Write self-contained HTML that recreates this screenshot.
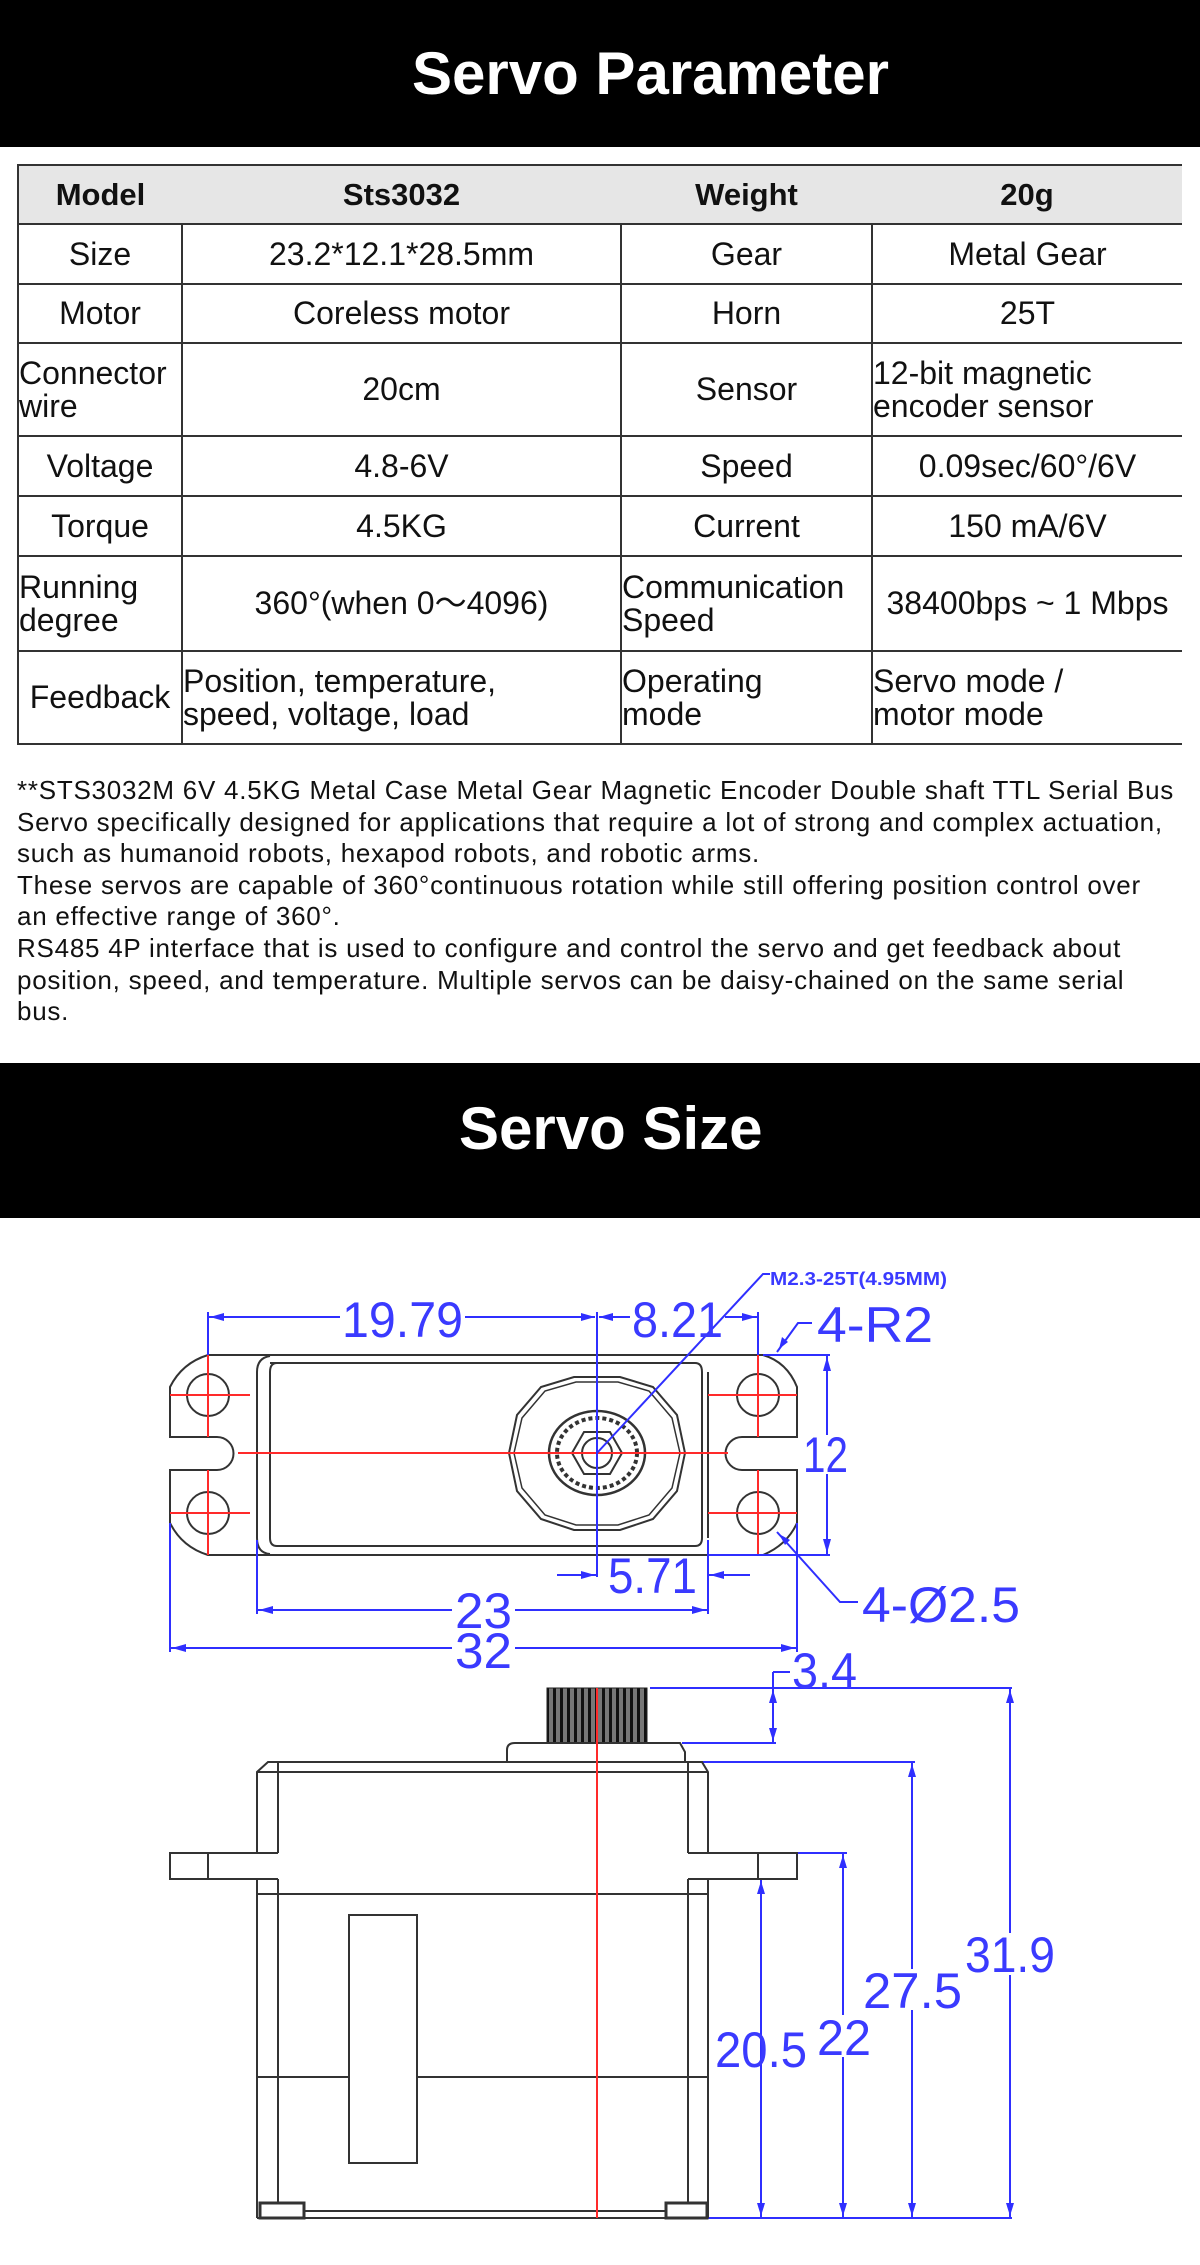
<!DOCTYPE html>
<html><head><meta charset="utf-8">
<style>
*{margin:0;padding:0;box-sizing:border-box}
body{width:1200px;height:2265px;background:#fff;position:relative;overflow:hidden;font-family:"Liberation Sans","Noto Sans CJK SC",sans-serif;color:#111}
.band{position:absolute;left:0;width:1200px;background:#000}
.ttl{position:absolute;color:#fff;font-weight:bold;font-size:60px;line-height:60px;white-space:nowrap}
table{position:absolute;left:17px;top:164px;border-collapse:collapse;table-layout:fixed;width:1164px}
td{border:2px solid #333;font-size:32px;text-align:center;vertical-align:middle;line-height:33px;padding:0;border-right:none;white-space:nowrap;overflow:visible}
td.l{text-align:left}
tr.h td{background:#e6e6e6;border-left:none;border-right:none;font-weight:bold;font-size:31px}
tr.h td:first-child{border-left:2px solid #333}
td:last-child{border-right:none}
.p{position:absolute;left:17px;top:775px;font-size:26px;letter-spacing:0.75px;line-height:31.6px;white-space:nowrap;color:#111}
</style></head><body>
<div class="band" style="top:0;height:147px"></div>
<div class="ttl" style="left:412px;top:44px">Servo Parameter</div>

<table>
<colgroup><col style="width:164px"><col style="width:439px"><col style="width:251px"><col style="width:310px"></colgroup>
<tr class="h" style="height:59px"><td>Model</td><td>Sts3032</td><td>Weight</td><td>20g</td></tr>
<tr style="height:60px"><td>Size</td><td>23.2*12.1*28.5mm</td><td>Gear</td><td>Metal Gear</td></tr>
<tr style="height:59px"><td>Motor</td><td>Coreless motor</td><td>Horn</td><td>25T</td></tr>
<tr style="height:93px"><td class="l">Connector<br>wire</td><td>20cm</td><td>Sensor</td><td class="l">12-bit magnetic<br>encoder sensor</td></tr>
<tr style="height:60px"><td>Voltage</td><td>4.8-6V</td><td>Speed</td><td>0.09sec/60°/6V</td></tr>
<tr style="height:60px"><td>Torque</td><td>4.5KG</td><td>Current</td><td>150 mA/6V</td></tr>
<tr style="height:95px"><td class="l">Running<br>degree</td><td>360°(when 0～4096)</td><td class="l">Communication<br>Speed</td><td>38400bps ~ 1 Mbps</td></tr>
<tr style="height:93px"><td>Feedback</td><td class="l">Position, temperature,<br>speed, voltage, load</td><td class="l">Operating<br>mode</td><td class="l">Servo mode /<br>motor mode</td></tr>
</table>

<div class="p">**STS3032M 6V 4.5KG Metal Case Metal Gear Magnetic Encoder Double shaft TTL Serial Bus<br>Servo specifically designed for applications that require a lot of strong and complex actuation,<br>such as humanoid robots, hexapod robots, and robotic arms.<br>These servos are capable of 360°continuous rotation while still offering position control over<br>an effective range of 360°.<br>RS485 4P interface that is used to configure and control the servo and get feedback about<br>position, speed, and temperature. Multiple servos can be daisy-chained on the same serial<br>bus.</div>

<div class="band" style="top:1063px;height:155px"></div>
<div class="ttl" style="left:459px;top:1099px">Servo Size</div>

<svg width="1200" height="2265" style="position:absolute;left:0;top:0" xmlns="http://www.w3.org/2000/svg">
<defs>
<pattern id="sp" width="7" height="10" patternUnits="userSpaceOnUse"><rect width="7" height="10" fill="#777"/><rect width="3" height="10" fill="#111"/></pattern>
</defs>
<g fill="none" stroke="#333" stroke-width="2">
<path d="M208,1355 H763 Q787,1362 797,1387 V1437 H742 A16.5,16.5 0 0 0 742,1470 H797 V1523 Q787,1545 763,1555 H208 Q182,1547 170,1523 V1470 H217 A16.5,16.5 0 0 0 217,1437 H170 V1387 Q182,1363 208,1355 Z"/>
<path d="M257,1372 Q257,1358 270,1356 M257,1372 V1538 Q257,1553 270,1554"/>
<path d="M270,1363 H695 Q702,1363 702,1372 V1538 Q702,1546 695,1546 H277 Q270,1546 270,1538 V1372 Q270,1363 277,1363"/>
<path d="M708,1372 V1538"/>
<circle cx="208" cy="1395" r="21"/><circle cx="208" cy="1513" r="21"/>
<circle cx="758" cy="1395" r="21"/><circle cx="758" cy="1513" r="21"/>
<polygon points="685,1453 677,1415 653,1387 620,1377 574,1377 541,1387 517,1415 509,1453 517,1491 541,1519 574,1530 620,1530 653,1519 677,1491"/>
<polygon points="680,1453 672,1418 649,1391 618,1382 576,1382 545,1391 522,1418 514,1453 522,1488 545,1515 576,1525 618,1525 649,1515 672,1488" stroke-width="1.5"/>
<ellipse cx="597" cy="1453" rx="48" ry="42" stroke-width="2.5"/>
<ellipse cx="597" cy="1453" rx="40" ry="35" stroke-width="4" stroke-dasharray="4 3"/>
<polygon points="622,1453 610,1474 584,1474 572,1453 584,1432 610,1432"/>
<circle cx="597" cy="1453" r="15"/>
</g>
<g stroke="#ff2a2a" stroke-width="2">
<line x1="170" y1="1395" x2="250" y2="1395"/><line x1="170" y1="1513" x2="250" y2="1513"/>
<line x1="708" y1="1395" x2="797" y2="1395"/><line x1="708" y1="1513" x2="797" y2="1513"/>
<line x1="208" y1="1355" x2="208" y2="1437"/><line x1="208" y1="1470" x2="208" y2="1555"/>
<line x1="758" y1="1355" x2="758" y2="1437"/><line x1="758" y1="1470" x2="758" y2="1555"/>
<line x1="238" y1="1453" x2="728" y2="1453"/>
</g>
<g stroke="#2f2fff" stroke-width="2" fill="none">
<line x1="208" y1="1312" x2="208" y2="1355"/>
<line x1="597" y1="1312" x2="597" y2="1577"/>
<line x1="758" y1="1312" x2="758" y2="1355"/>
<line x1="208" y1="1317" x2="340" y2="1317"/><line x1="465" y1="1317" x2="595" y2="1317"/>
<line x1="599" y1="1317" x2="630" y2="1317"/><line x1="725" y1="1317" x2="758" y2="1317"/>
<line x1="557" y1="1575" x2="597" y2="1575"/><line x1="708" y1="1575" x2="750" y2="1575"/>
<line x1="708" y1="1540" x2="708" y2="1614"/>
<line x1="257" y1="1540" x2="257" y2="1614"/>
<line x1="257" y1="1610" x2="452" y2="1610"/><line x1="515" y1="1610" x2="708" y2="1610"/>
<line x1="170" y1="1523" x2="170" y2="1652"/><line x1="797" y1="1523" x2="797" y2="1652"/>
<line x1="170" y1="1648" x2="452" y2="1648"/><line x1="515" y1="1648" x2="797" y2="1648"/>
<line x1="763" y1="1355" x2="830" y2="1355"/><line x1="708" y1="1555" x2="830" y2="1555"/>
<line x1="827" y1="1355" x2="827" y2="1435"/><line x1="827" y1="1474" x2="827" y2="1555"/>
<polyline points="597,1453 763,1274 770,1274"/>
<polyline points="777,1352 798,1323 812,1323"/>
<polyline points="777,1532 840,1602 858,1602"/>
<line x1="650" y1="1688" x2="1012" y2="1688"/>
<line x1="773" y1="1672" x2="773" y2="1743"/><line x1="773" y1="1672" x2="790" y2="1672"/>
<line x1="682" y1="1743" x2="776" y2="1743"/>
<line x1="702" y1="1762" x2="915" y2="1762"/>
<line x1="797" y1="1853" x2="847" y2="1853"/>
<line x1="1010" y1="1688" x2="1010" y2="1933"/><line x1="1010" y1="1975" x2="1010" y2="2218"/>
<line x1="912" y1="1762" x2="912" y2="1969"/><line x1="912" y1="2010" x2="912" y2="2218"/>
<line x1="843" y1="1853" x2="843" y2="2015"/><line x1="843" y1="2057" x2="843" y2="2218"/>
<line x1="761" y1="1879" x2="761" y2="2218"/>
<line x1="707" y1="2218" x2="1012" y2="2218"/>
</g>
<g fill="#2f2fff">
<path d="M210,1317 l14,-4 v8 z"/><path d="M595,1317 l-14,-4 v8 z"/>
<path d="M599,1317 l14,-4 v8 z"/><path d="M756,1317 l-14,-4 v8 z"/>
<path d="M595,1575 l-14,-4 v8 z"/><path d="M710,1575 l14,-4 v8 z"/>
<path d="M259,1610 l14,-4 v8 z"/><path d="M706,1610 l-14,-4 v8 z"/>
<path d="M172,1648 l14,-4 v8 z"/><path d="M795,1648 l-14,-4 v8 z"/>
<path d="M827,1357 l-4,14 h8 z"/><path d="M827,1553 l-4,-14 h8 z"/>
<path d="M779,1349 l3,-12 l6,5 z"/><path d="M779,1534 l6,11 l5,-5 z"/>
<path d="M773,1690 l-4,13 h8 z"/><path d="M773,1741 l-4,-13 h8 z"/>
<path d="M1010,1690 l-4,13 h8 z"/><path d="M1010,2216 l-4,-13 h8 z"/>
<path d="M912,1764 l-4,13 h8 z"/><path d="M912,2216 l-4,-13 h8 z"/>
<path d="M843,1855 l-4,13 h8 z"/><path d="M843,2216 l-4,-13 h8 z"/>
<path d="M761,1881 l-4,13 h8 z"/><path d="M761,2216 l-4,-13 h8 z"/>
</g>
<g fill="#3a3aff" font-family="Liberation Sans, sans-serif" font-size="50">
<text x="342" y="1337" textLength="121" lengthAdjust="spacingAndGlyphs">19.79</text>
<text x="632" y="1337" textLength="91" lengthAdjust="spacingAndGlyphs">8.21</text>
<text x="817" y="1342" textLength="116" lengthAdjust="spacingAndGlyphs">4-R2</text>
<text x="803" y="1472" textLength="45" lengthAdjust="spacingAndGlyphs">12</text>
<text x="608" y="1593" textLength="89" lengthAdjust="spacingAndGlyphs">5.71</text>
<text x="862" y="1622" textLength="158" lengthAdjust="spacingAndGlyphs">4-Ø2.5</text>
<text x="455" y="1628" textLength="57" lengthAdjust="spacingAndGlyphs">23</text>
<text x="455" y="1668" textLength="57" lengthAdjust="spacingAndGlyphs">32</text>
<text x="792" y="1688" textLength="65" lengthAdjust="spacingAndGlyphs">3.4</text>
<text x="965" y="1972" textLength="90" lengthAdjust="spacingAndGlyphs">31.9</text>
<text x="863" y="2008" textLength="99" lengthAdjust="spacingAndGlyphs">27.5</text>
<text x="817" y="2055" textLength="54" lengthAdjust="spacingAndGlyphs">22</text>
<text x="715" y="2067" textLength="92" lengthAdjust="spacingAndGlyphs">20.5</text>
<text x="770" y="1285" font-size="18" font-weight="bold" textLength="177" lengthAdjust="spacingAndGlyphs">M2.3-25T(4.95MM)</text>
</g>
<rect x="547" y="1688" width="100" height="55" fill="url(#sp)" stroke="#222" stroke-width="1"/>
<g fill="none" stroke="#333" stroke-width="2">
<path d="M507,1762 V1750 Q507,1743 515,1743 H680 L685,1752 V1762"/>
<path d="M257,1853 V1772 L268,1762 H702 L708,1772 V1853"/>
<line x1="257" y1="1772" x2="708" y2="1772"/>
<line x1="278" y1="1762" x2="278" y2="1853"/><line x1="688" y1="1762" x2="688" y2="1853"/>
<path d="M278,1853 H170 V1879 H278"/><line x1="208" y1="1853" x2="208" y2="1879"/>
<path d="M688,1853 H797 V1879 H688"/><line x1="758" y1="1853" x2="758" y2="1879"/>
<line x1="257" y1="1879" x2="257" y2="2218"/><line x1="278" y1="1879" x2="278" y2="2203"/>
<line x1="708" y1="1879" x2="708" y2="2218"/><line x1="688" y1="1879" x2="688" y2="2203"/>
<line x1="257" y1="1894" x2="708" y2="1894"/>
<line x1="257" y1="2077" x2="349" y2="2077"/><line x1="417" y1="2077" x2="708" y2="2077"/>
<rect x="349" y="1915" width="68" height="248"/>
<line x1="257" y1="2218" x2="708" y2="2218"/>
<line x1="304" y1="2211" x2="666" y2="2211"/>
<rect x="260" y="2203" width="44" height="15" stroke-width="3"/>
<rect x="666" y="2203" width="41" height="15" stroke-width="3"/>
</g>
<line x1="597" y1="1688" x2="597" y2="2218" stroke="#ff2a2a" stroke-width="2"/>
</svg>
</body></html>
